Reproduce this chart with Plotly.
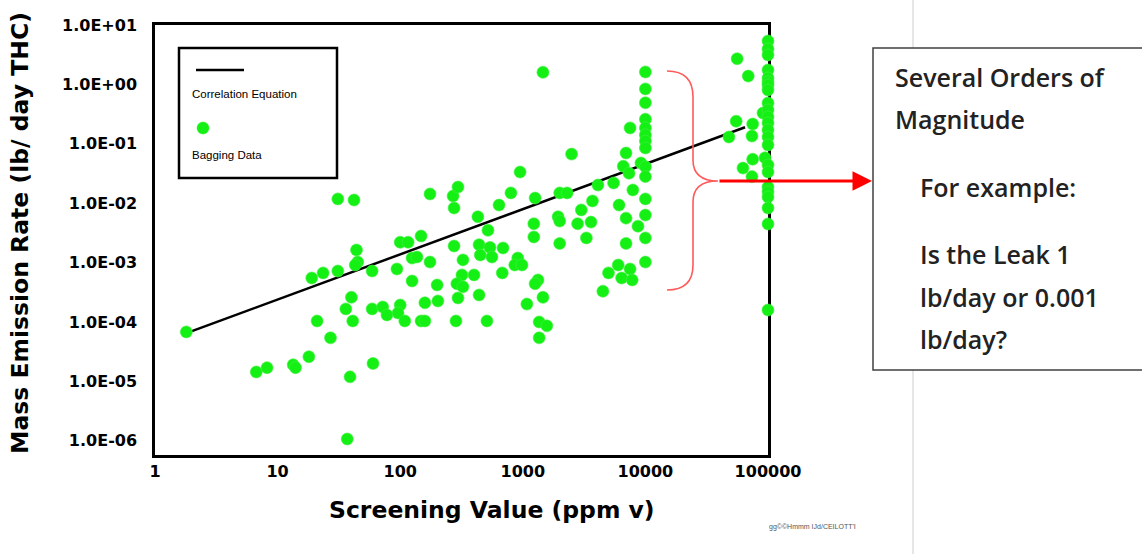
import plotly.graph_objects as go

# ---------------- data ----------------
# Correlation equation line (screening value ppmv, emission rate lb/day)
corr_sv = [2.0, 65000]
corr_er = [7.0e-5, 0.19]

# Bagging data: unpegged screening values
bag_sv = [1.8, 31, 42, 44, 45, 43, 19, 23.5, 31, 59, 100, 116, 148, 94, 40, 36, 41, 59, 72, 100,
          78, 96, 109, 21, 27, 18, 13.4, 14, 6.7, 8.2, 39, 60, 37, 175, 270, 296, 275, 275, 325, 175,
          125, 137, 125, 200, 319, 290, 325, 159, 203, 296, 285, 148, 159, 2500, 6950, 6600, 950, 800, 640, 1260,
          2000, 2300, 3700, 4100, 5500, 3000, 6100, 6950, 430, 520, 1230, 1940, 2000, 2800, 3600, 1230, 3300, 2000, 6950, 440,
          450, 540, 690, 560, 910, 860, 985, 680, 400, 1330, 1260, 1460, 1080, 440, 4500, 5000, 6000, 6400, 7500, 7800,
          510, 1360, 1570, 1360, 1460, 7500, 7900, 8700, 7350, 9200, 56000, 69000, 55000, 75000, 48000, 74000, 75000, 62500, 74000, 91000,
          94600]
bag_er = [6.8e-5, 0.0118, 0.0113, 0.00163, 0.00102, 0.00091, 0.00055, 0.00067, 0.00072, 0.00072, 0.0022, 0.0022, 0.0028, 0.00078, 0.00026, 0.000166, 0.000104, 0.000166, 0.000179, 0.000193,
          0.000131, 0.000142, 0.000104, 0.000104, 5.4e-5, 2.6e-5, 1.9e-5, 1.7e-5, 1.44e-5, 1.7e-5, 1.19e-5, 2.0e-5, 1.07e-6, 0.0143, 0.0132, 0.0187, 0.0083, 0.0019, 0.00111, 0.00102,
          0.00119, 0.00124, 0.00049, 0.00042, 0.00062, 0.00044, 0.00039, 0.00021, 0.000226, 0.000254, 0.000104, 0.000104, 0.000104, 0.067, 0.070, 0.042, 0.0335, 0.0149, 0.0093, 0.0122,
          0.0149, 0.0149, 0.0109, 0.0202, 0.0219, 0.0077, 0.0093, 0.0056, 0.0059, 0.0035, 0.0045, 0.0059, 0.0050, 0.0045, 0.0048, 0.0027, 0.0026, 0.0021, 0.0021, 0.0020,
          0.00134, 0.0018, 0.00176, 0.00124, 0.00119, 0.00091, 0.00091, 0.00067, 0.00062, 0.00051, 0.00044, 0.00026, 0.00020, 0.000285, 0.00033, 0.00067, 0.00091, 0.00055, 0.00078, 0.00051,
          0.000104, 0.000100, 8.6e-5, 5.4e-5, 1.6, 0.185, 0.0167, 0.0041, 0.032, 0.0475, 2.7, 1.38, 0.24, 0.215, 0.13, 0.135, 0.055, 0.039, 0.028, 0.33,
          0.058]

# Bagging data pegged at 10,000 ppmv
peg10k_sv = 10000
peg10k_er = [1.62, 0.84, 0.49, 0.26, 0.185, 0.141, 0.111, 0.085, 0.041, 0.028, 0.0118, 0.0063, 0.0026, 0.00102]

# Bagging data pegged at 100,000 ppmv
peg100k_sv = 100000
peg100k_er = [5.38, 3.94, 3.13, 1.75, 1.28, 1.1, 0.977, 0.805, 0.486, 0.371, 0.283, 0.224, 0.171, 0.130, 0.0955,
              0.044, 0.0335, 0.0187, 0.0155, 0.0127, 0.0083, 0.00447, 0.000159]

x_tickvals = [1, 10, 100, 1000, 10000, 100000]
x_ticktext = ["1", "10", "100", "1000", "10000", "100000"]
y_tickvals = [1e1, 1e0, 1e-1, 1e-2, 1e-3, 1e-4, 1e-5, 1e-6]
y_ticktext = ["1.0E+01", "1.0E+00", "1.0E-01", "1.0E-02", "1.0E-03", "1.0E-04", "1.0E-05", "1.0E-06"]

box_lines = ["Several Orders of", "Magnitude", "For example:", "Is the Leak 1", "lb/day or 0.001", "lb/day?"]

# ---------------- figure ----------------
all_sv = bag_sv + [peg10k_sv] * len(peg10k_er) + [peg100k_sv] * len(peg100k_er)
all_er = bag_er + peg10k_er + peg100k_er

GREEN = "#14f014"

fig = go.Figure()
fig.add_trace(go.Scatter(x=corr_sv, y=corr_er, mode="lines", name="Correlation Equation",
                         line=dict(color="black", width=2.5), showlegend=False, cliponaxis=False))
fig.add_trace(go.Scatter(x=all_sv, y=all_er, mode="markers", name="Bagging Data",
                         marker=dict(symbol="circle", size=12, color=GREEN,
                                     line=dict(color="#45f045", width=0.6)),
                         showlegend=False, cliponaxis=False))

tickfont = dict(family="DejaVu Sans", size=16, color="black", weight="bold")
fig.update_xaxes(type="log", range=[0, 5], showline=True, mirror=True, linecolor="black", linewidth=2.5,
                 showgrid=False, zeroline=False, ticks="", tickvals=x_tickvals, ticktext=x_ticktext,
                 tickfont=tickfont, layer="below traces", ticklabelstandoff=0)
fig.update_yaxes(type="log", range=[-6.24, 1], showline=True, mirror=True, linecolor="black", linewidth=2.5,
                 showgrid=False, zeroline=False, ticks="", tickvals=y_tickvals, ticktext=y_ticktext,
                 tickfont=tickfont, layer="below traces", ticklabelstandoff=12)

W, H = 1142, 554
L, R, T, B = 155, 374, 25, 99
PW, PH = W - L - R, H - T - B


def px(v):
    return (v - L) / PW


def py(v):
    return (H - B - v) / PH


shapes = []
# slide edge line
shapes.append(dict(type="line", xref="paper", yref="paper", x0=px(913), x1=px(913), y0=py(H), y1=py(0),
                   line=dict(color="#d6d6d6", width=1.2)))
# text box
shapes.append(dict(type="rect", xref="paper", yref="paper", x0=px(873), x1=px(1150), y0=py(370), y1=py(48),
                   line=dict(color="#404040", width=1.5), fillcolor="white"))
# legend box
shapes.append(dict(type="rect", xref="paper", yref="paper", x0=px(179), x1=px(337), y0=py(178), y1=py(48),
                   line=dict(color="black", width=2.5), fillcolor="white"))
shapes.append(dict(type="line", xref="paper", yref="paper", x0=px(196), x1=px(244), y0=py(70), y1=py(70),
                   line=dict(color="black", width=2.5)))
shapes.append(dict(type="circle", xref="paper", yref="paper", x0=px(197), x1=px(209), y0=py(134), y1=py(122),
                   line=dict(color=GREEN, width=0.5), fillcolor=GREEN))
# red brace
brace = (f"M {px(667)},{py(71)} Q {px(693)},{py(71)} {px(693)},{py(97)} "
         f"L {px(693)},{py(160)} Q {px(693)},{py(181)} {px(718)},{py(181)} "
         f"Q {px(693)},{py(181)} {px(693)},{py(202)} L {px(693)},{py(265)} "
         f"Q {px(693)},{py(290)} {px(667)},{py(290)}")
shapes.append(dict(type="path", xref="paper", yref="paper", path=brace,
                   line=dict(color="#ff5a5a", width=1.6)))

annotations = []
# arrow
annotations.append(dict(xref="paper", yref="paper", x=px(872), y=py(181), ax=-154, ay=0, text="",
                        showarrow=True, arrowhead=2, arrowsize=1.3, arrowwidth=3, arrowcolor="#ff0000"))
# axis titles
annotations.append(dict(xref="paper", yref="paper", x=px(492), y=py(510), text="Screening Value (ppm v)",
                        showarrow=False, xanchor="center", yanchor="middle",
                        font=dict(family="DejaVu Sans", size=23.5, color="black", weight="bold")))
annotations.append(dict(xref="paper", yref="paper", x=px(20), y=py(233), text="Mass Emission Rate (lb/ day THC)",
                        showarrow=False, xanchor="center", yanchor="middle", textangle=-90,
                        font=dict(family="DejaVu Sans", size=23.5, color="black", weight="bold")))
# legend texts
annotations.append(dict(xref="paper", yref="paper", x=px(190), y=py(94), text="Correlation Equation",
                        showarrow=False, xanchor="left", yanchor="middle",
                        font=dict(family="Liberation Sans", size=11.5, color="black")))
annotations.append(dict(xref="paper", yref="paper", x=px(190), y=py(155), text="Bagging Data",
                        showarrow=False, xanchor="left", yanchor="middle",
                        font=dict(family="Liberation Sans", size=11.5, color="black")))
# box texts
box_pos = [(893, 77), (893, 119), (918, 187), (918, 254), (918, 297), (918, 339)]
for txt, (bx, by) in zip(box_lines, box_pos):
    annotations.append(dict(xref="paper", yref="paper", x=px(bx), y=py(by), text=txt,
                            showarrow=False, xanchor="left", yanchor="middle",
                            font=dict(family="Open Sans", size=25, color="#222222", weight=600)))
# tiny footer
annotations.append(dict(xref="paper", yref="paper", x=px(812), y=py(527), text="gg©©Hmmm IJd/CEILOTT'I",
                        showarrow=False, xanchor="center", yanchor="middle",
                        font=dict(family="Liberation Sans", size=7, color="#555555")))

fig.update_layout(width=W, height=H, autosize=False, margin=dict(l=L, r=R, t=T, b=B, pad=0),
                  paper_bgcolor="white", plot_bgcolor="white", showlegend=False,
                  shapes=shapes, annotations=annotations)

fig.write_html("out.html", config={"displayModeBar": False},
               post_script="document.body.style.margin='0';")
